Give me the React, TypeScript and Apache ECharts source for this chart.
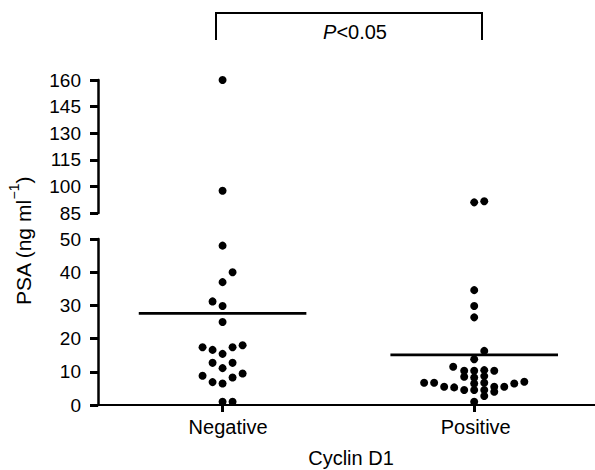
import React, { useEffect, useRef } from 'react';
import * as echarts from 'echarts';

const categories = ['Negative', 'Positive'];
// PSA values (ng/ml), with beeswarm column offsets (in dot widths)
const negValues = [160, 97.5, 48, 40, 37, 31.2, 29.8, 25, 17.4, 16.6, 15.4, 17.4, 18, 12.7, 12.7, 11.1, 8.8, 6.9, 6.5, 8.3, 9.5, 1, 1];
const negOffsets = [0, 0, 0, 1, 0, -1, 0, 0, -2, -1, 0, 1, 2, -1, 1, 0, -2, -1, 0, 1, 2, 0, 1];
const posValues = [91, 91.6, 34.6, 29.8, 26.4, 16.3, 13.8, 11.5, 10.3, 10.3, 10.5, 10.3, 8.5, 8.3, 8.7, 6.7, 6.7, 5.5, 5.3, 4.5, 6.5, 6.7, 5.5, 5.5, 6.5, 7.0, 4.5, 4.5, 4.0, 2.7, 1.0];
const posOffsets = [0, 1, 0, 0, 0, 1, 0, -2.1, -1, 0, 1, 2, -1, 0, 1, -5, -4, -3, -2, -1, 0, 1, 2, 3, 4, 5, 0, 1, 2, 1, 0];
const means = [27.6, 15.1];
const lowerRange = { min: 0, max: 50, interval: 10 };
const upperRange = { min: 85, max: 160, interval: 15 };
const pValueLabel = 'P<0.05';

const FONT = '"Liberation Sans", Arial, Helvetica, sans-serif';
const DOT_STEP = 0.0398; // one dot width in x-axis units
const MEAN_HALF = 0.333;

export default function App() {
  const ref = useRef<HTMLDivElement>(null);
  useEffect(() => {
    document.body.style.margin = '0';
    const chart = echarts.init(ref.current!, null, { renderer: 'svg' });
    const groups = [negValues, posValues].map((vals, gi) => {
      const offs = gi === 0 ? negOffsets : posOffsets;
      return vals.map((v, i) => [gi + 1 + offs[i] * DOT_STEP, v]);
    });
    const all = groups.flat();
    const lower = all.filter((d) => d[1] <= lowerRange.max);
    const upper = all.filter((d) => d[1] >= upperRange.min);

    const yAxisCommon = {
      type: 'value',
      axisLine: { show: true, onZero: false, lineStyle: { color: '#000', width: 2.5 } },
      axisTick: { show: true, length: 8, lineStyle: { color: '#000', width: 3 } },
      axisLabel: { color: '#000', fontSize: 19, fontFamily: FONT, margin: 17 },
      splitLine: { show: false },
    };
    const xCommon = { type: 'value', min: 0.505, max: 2.48 };
    const dotStyle = { color: '#000', opacity: 1 };

    chart.setOption({
      animation: false,
      backgroundColor: '#fff',
      grid: [
        { left: 98, right: 0, top: 80, height: 133, outerBoundsMode: 'none', containLabel: false },
        { left: 98, right: 0, top: 239, height: 166, outerBoundsMode: 'none', containLabel: false },
      ],
      xAxis: [
        { ...xCommon, gridIndex: 0, show: false },
        {
          ...xCommon,
          gridIndex: 1,
          axisLine: { show: true, onZero: false, lineStyle: { color: '#000', width: 2 } },
          axisTick: { show: true, customValues: [1, 2], length: 7, lineStyle: { color: '#000', width: 3 } },
          axisLabel: {
            customValues: [1, 2],
            formatter: (v: number) => {
              const i = Math.round(v) - 1;
              return i === 0 ? '{a|' + categories[0] + '}' : '{b|' + (categories[i] ?? '') + '}';
            },
            rich: {
              a: { fontSize: 20, fontFamily: FONT, color: '#000', padding: [0, 0, 0, 11] },
              b: { fontSize: 20, fontFamily: FONT, color: '#000', padding: [0, 0, 0, 3] },
            },
            color: '#000',
            fontSize: 20,
            fontFamily: FONT,
            margin: 12,
          },
          splitLine: { show: false },
        },
      ],
      yAxis: [
        { ...yAxisCommon, gridIndex: 0, ...upperRange },
        { ...yAxisCommon, gridIndex: 1, ...lowerRange },
      ],
      series: [
        {
          type: 'scatter', xAxisIndex: 0, yAxisIndex: 0, data: upper,
          symbolSize: 8, itemStyle: dotStyle, silent: true,
        },
        {
          type: 'scatter', xAxisIndex: 1, yAxisIndex: 1, data: lower,
          symbolSize: 8, itemStyle: dotStyle, silent: true,
        },
        ...means.map((m, i) => ({
          type: 'line', xAxisIndex: 1, yAxisIndex: 1,
          data: [[i + 1 - MEAN_HALF, m], [i + 1 + MEAN_HALF, m]],
          symbol: 'none', lineStyle: { color: '#000', width: 2.7 }, silent: true,
        })),
      ],
      graphic: [
        {
          type: 'polyline',
          shape: { points: [[216, 40], [216, 13], [482, 13], [482, 40]] },
          style: { stroke: '#000', lineWidth: 2, fill: null },
        },
        {
          type: 'text', x: 355, y: 32,
          style: {
            text: '{i|P}{n|' + pValueLabel.slice(1) + '}',
            align: 'center', verticalAlign: 'middle',
            rich: {
              i: { fontSize: 20, fontStyle: 'italic', fontFamily: FONT, fill: '#000' },
              n: { fontSize: 20, fontFamily: FONT, fill: '#000' },
            },
          },
        },
        {
          type: 'text', x: 351, y: 458,
          style: { text: 'Cyclin D1', fontSize: 20, fontFamily: FONT, fill: '#000', align: 'center', verticalAlign: 'middle' },
        },
        {
          type: 'text', x: 20, y: 241, rotation: Math.PI / 2,
          style: {
            text: '{n|PSA (ng ml}{s|−1}{n|)}',
            align: 'center', verticalAlign: 'middle',
            rich: {
              n: { fontSize: 21, fontFamily: FONT, fill: '#000', lineHeight: 27, verticalAlign: 'bottom' },
              s: { fontSize: 14, fontFamily: FONT, fill: '#000', lineHeight: 27, verticalAlign: 'top' },
            },
          },
        },
      ],
    });
    return () => chart.dispose();
  }, []);
  return <div ref={ref} style={{ position: 'absolute', left: 0, top: 0, width: 595, height: 470 }} />;
}
